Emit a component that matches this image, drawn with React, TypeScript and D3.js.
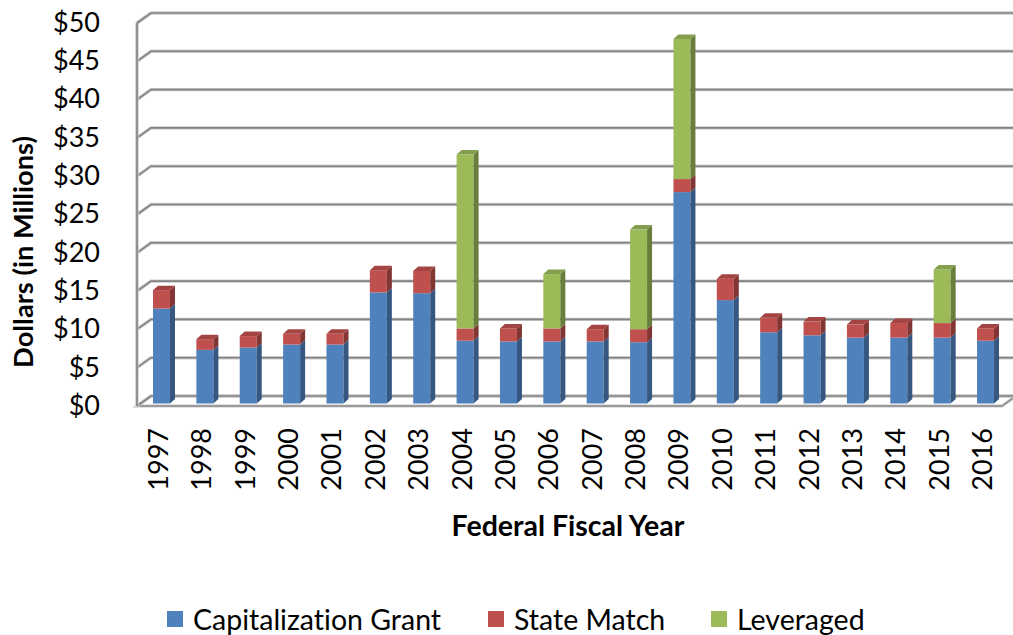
import * as d3 from "d3";

const years = [
  "1997", "1998", "1999", "2000", "2001", "2002", "2003", "2004", "2005", "2006",
  "2007", "2008", "2009", "2010", "2011", "2012", "2013", "2014", "2015", "2016",
];
const capitalizationGrant = [12.4, 7.0, 7.3, 7.7, 7.7, 14.5, 14.4, 8.2, 8.1, 8.1, 8.1, 8.0, 27.6, 13.5, 9.3, 8.9, 8.6, 8.6, 8.6, 8.2];
const stateMatch = [2.4, 1.4, 1.5, 1.4, 1.4, 2.9, 2.9, 1.6, 1.7, 1.7, 1.6, 1.7, 1.7, 2.8, 1.9, 1.8, 1.7, 1.9, 1.9, 1.6];
const leveraged = [0, 0, 0, 0, 0, 0, 0, 22.7, 0, 7.1, 0, 13.0, 18.3, 0, 0, 0, 0, 0, 7.0, 0];
const yTicks = [0, 5, 10, 15, 20, 25, 30, 35, 40, 45, 50];
const seriesNames = ["Capitalization Grant", "State Match", "Leveraged"];
const seriesColors = ["#4F81BD", "#C0504D", "#9BBB59"];

const W = 1013;
const H = 635;
const FONT = "Lato, 'Open Sans', sans-serif";

// 3D frame: front wall edge / back wall offset
const wallX = 137;
const DX = 14;
const DY = -10;
// bar depth
const BDX = 5;
const BDY = -4.5;
const barW = 17;

export default function App() {
  const yFront = d3.scaleLinear().domain([0, 50]).range([406, 23]);
  const yBar = (v: number) => yFront(v) - 2.5;
  const x = d3.scaleBand<string>().domain(years).range([139, 1006.4]).padding(0);

  const rows = years.map((yr, i) => ({
    year: yr,
    values: [capitalizationGrant[i], stateMatch[i], leveraged[i]],
  }));
  const stack = d3.stack<any, any, number>().keys([0, 1, 2]).value((d, k) => d.values[k]);
  const stacked = stack(rows);

  const grid = (v: number) => {
    const yf = yFront(v);
    return `M${wallX},${yf} L${wallX + DX},${yf + DY} L${W},${yf + DY}`;
  };

  const darker = (c: string, k: number) => d3.color(c)!.darker(k).formatHex();
  const textStyle = { fontVariantLigatures: "none" as const };

  return (
    <svg width={W} height={H} style={{ position: "absolute", left: 0, top: 0, background: "#fff" }}>
      {/* floor */}
      <path
        d={`M${wallX},${yFront(0)} L${1002},${yFront(0)} L${1002 + DX},${yFront(0) + DY} L${wallX + DX},${yFront(0) + DY} Z`}
        fill="#fff"
        stroke="#c8c8c8"
        strokeWidth={3}
      />
      <path
        d={`M${wallX},${yFront(0)} L${1002},${yFront(0)} L${1002 + DX},${yFront(0) + DY}`}
        fill="none"
        stroke="#8a8a8a"
        strokeWidth={1.5}
      />
      {/* gridlines */}
      {yTicks.map((t) => (
        <g key={t}>
          <path d={grid(t)} fill="none" stroke="#cccccc" strokeWidth={3.4} />
          <path d={grid(t)} fill="none" stroke="#828282" strokeWidth={1.6} />
        </g>
      ))}
      <line x1={wallX} x2={wallX} y1={yFront(50)} y2={yFront(0)} stroke="#cccccc" strokeWidth={3.4} />
      <line x1={wallX} x2={wallX} y1={yFront(50)} y2={yFront(0)} stroke="#828282" strokeWidth={1.6} />

      {/* bars */}
      {rows.map((r, i) => {
        const bx = x(r.year)! + 14;
        const segs = stacked
          .map((s, k) => ({ k, y0: s[i][0], y1: s[i][1] }))
          .filter((s) => s.y1 - s.y0 > 0);
        const topSeg = segs[segs.length - 1];
        return (
          <g key={r.year}>
            {segs.map((s) => {
              const c = seriesColors[s.k];
              const yt = yBar(s.y1);
              const yb = yBar(s.y0);
              return (
                <g key={s.k}>
                  <rect x={bx} y={yt} width={barW} height={yb - yt} fill={c} />
                  <path
                    d={`M${bx + barW},${yt} L${bx + barW + BDX},${yt + BDY} L${bx + barW + BDX},${yb + BDY} L${bx + barW},${yb} Z`}
                    fill={darker(c, 1.1)}
                  />
                </g>
              );
            })}
            {topSeg && (
              <path
                d={`M${bx},${yBar(topSeg.y1)} L${bx + BDX},${yBar(topSeg.y1) + BDY} L${bx + barW + BDX},${yBar(topSeg.y1) + BDY} L${bx + barW},${yBar(topSeg.y1)} Z`}
                fill={darker(seriesColors[topSeg.k], 0.45)}
              />
            )}
          </g>
        );
      })}

      {/* y tick labels */}
      {yTicks.map((t) => (
        <text
          key={t}
          x={100}
          y={yFront(t) + 2}
          textAnchor="end"
          dominantBaseline="middle"
          fontFamily={FONT}
          fontSize={27}
          fill="#000"
        >
          {`$${t}`}
        </text>
      ))}

      {/* x tick labels */}
      {years.map((yr) => (
        <text
          key={yr}
          transform={`translate(${x(yr)! + 18.5},428) rotate(-90)`}
          textAnchor="end"
          dominantBaseline="central"
          fontFamily={FONT}
          fontSize={27}
          fill="#000"
        >
          {yr}
        </text>
      ))}

      {/* axis titles */}
      <text
        transform="translate(22,252) rotate(-90)"
        textAnchor="middle"
        dominantBaseline="central"
        fontFamily={FONT}
        fontWeight="bold"
        fontSize={27.3}
        fill="#000"
        style={textStyle}
      >
        Dollars (in Millions)
      </text>
      <text
        x={568}
        y={525}
        textAnchor="middle"
        dominantBaseline="central"
        fontFamily={FONT}
        fontWeight="bold"
        fontSize={28.5}
        fill="#000"
        style={textStyle}
      >
        Federal Fiscal Year
      </text>

      {/* legend */}
      {seriesNames.map((name, k) => {
        const lx = [167, 488, 711][k];
        return (
          <g key={name}>
            <rect x={lx} y={611} width={16} height={16} fill={seriesColors[k]} />
            <text
              x={lx + 26}
              y={619}
              dominantBaseline="central"
              fontFamily={FONT}
              fontSize={28.5}
              fill="#000"
              style={textStyle}
            >
              {name}
            </text>
          </g>
        );
      })}
    </svg>
  );
}
